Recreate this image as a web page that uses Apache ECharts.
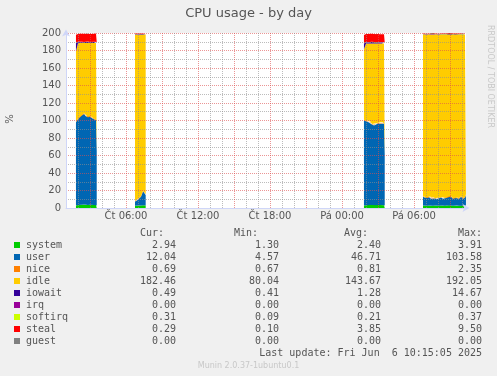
<!DOCTYPE html>
<html>
<head>
<meta charset="utf-8">
<script src="https://cdn.jsdelivr.net/npm/echarts@6.0.0/dist/echarts.min.js"></script>
<style>
  html, body { margin: 0; padding: 0; background: #f0f0f0; }
  #main { width: 497px; height: 376px; }
</style>
</head>
<body>
<div id="main"></div>
<script>
// sample times, hours since Thu 00:00 (null rows = no data between blocks)
var hours = [
  1.83, 2.00, 2.17, 2.33, 2.50, 2.67, 2.83, 3.00, 3.17, 3.33, 3.50, 3.56,
  null,
  6.75, 6.92, 7.08, 7.25, 7.42, 7.58, 7.64,
  null,
  25.83, 26.00, 26.17, 26.33, 26.50, 26.67, 26.83, 27.00, 27.17, 27.33, 27.50, 27.56,
  null,
  30.75, 30.92, 31.08, 31.25, 31.42, 31.58, 31.75, 31.92, 32.08, 32.25, 32.42, 32.58,
  32.75, 32.92, 33.08, 33.25, 33.42, 33.58, 33.75, 33.92, 34.08, 34.25, 34.33
];
var system = [
  3.0, 3.4, 3.5, 3.6, 3.9, 3.5, 3.4, 3.6, 3.5, 3.4, 3.3, 2.9,
  null,
  2.5, 2.6, 2.8, 3.0, 3.2, 3.1, 3.0,
  null,
  3.0, 3.2, 3.4, 3.5, 3.3, 3.4, 3.2, 3.5, 3.3, 3.4, 3.2, 2.8,
  null,
  2.8, 2.6, 2.7, 2.9, 2.5, 2.6, 2.8, 2.7, 2.6, 2.9, 2.7, 2.6,
  2.8, 3.1, 2.9, 2.7, 2.6, 2.8, 2.7, 2.9, 2.6, 2.8, 2.9
];
var user = [
  95, 98, 101, 102, 103.5, 101, 100, 101, 99, 98, 97, 62,
  null,
  5, 6, 8, 10, 16, 14, 12,
  null,
  97, 96, 95, 95, 92, 91, 93, 93, 93, 94, 93, 58,
  null,
  10, 9, 8.5, 9.5, 8, 9, 8, 7.5, 8.5, 9, 8, 8.5,
  9, 12, 10, 8, 9, 8.5, 8, 10, 8, 9, 12
];
var nice = [
  0.8, 0.8, 0.9, 0.8, 0.8, 0.8, 0.8, 0.9, 0.8, 0.8, 0.8, 0.7,
  null,
  0.7, 0.7, 0.7, 0.7, 0.7, 0.7, 0.7,
  null,
  0.8, 0.8, 0.8, 0.8, 0.8, 0.8, 0.8, 0.8, 0.8, 0.8, 0.8, 0.7,
  null,
  0.7, 0.7, 0.7, 0.7, 0.7, 0.7, 0.7, 0.7, 0.7, 0.7, 0.7, 0.7,
  0.7, 0.7, 0.7, 0.7, 0.7, 0.7, 0.7, 0.7, 0.7, 0.7, 0.7
];
var idle = [
  80.2, 86.3, 83.1, 82.1, 80.3, 83.2, 84.3, 83.0, 85.2, 86.3, 87.4, 122.9,
  null,
  189.9, 188.6, 186.7, 184.5, 178.3, 180.6, 182.7,
  null,
  80.5, 88.0, 88.8, 88.7, 91.9, 92.8, 91.0, 90.7, 90.9, 89.8, 91.0, 126.5,
  null,
  184.7, 185.9, 186.3, 185.1, 187.0, 185.9, 186.7, 187.3, 186.4, 185.6, 186.8, 186.4,
  185.7, 182.4, 184.6, 186.8, 185.9, 186.2, 186.8, 184.6, 186.9, 185.7, 182.6
];
var iowait = [
  9.5, 1.2, 1.0, 1.3, 0.9, 1.1, 1.4, 1.0, 1.2, 1.1, 1.3, 1.0,
  null,
  0.6, 0.7, 0.6, 0.6, 0.6, 0.5, 0.5,
  null,
  6.7, 1.5, 1.2, 1.4, 1.6, 1.3, 1.2, 1.4, 1.1, 1.3, 1.2, 1.0,
  null,
  0.5, 0.5, 0.6, 0.5, 0.4, 1.5, 0.5, 0.5, 0.6, 0.5, 0.5, 0.4,
  0.5, 1.2, 0.5, 0.5, 0.6, 0.5, 0.5, 0.5, 0.4, 0.5, 0.5
];
var irq = [
  0, 0, 0, 0, 0, 0, 0, 0, 0, 0, 0, 0,
  null,
  0, 0, 0, 0, 0, 0, 0,
  null,
  0, 0, 0, 0, 0, 0, 0, 0, 0, 0, 0, 0,
  null,
  0, 0, 0, 0, 0, 0, 0, 0, 0, 0, 0, 0,
  0, 0, 0, 0, 0, 0, 0, 0, 0, 0, 0
];
var softirq = [
  0.3, 0.3, 0.3, 0.3, 0.3, 0.3, 0.3, 0.3, 0.3, 0.3, 0.3, 0.3,
  null,
  0.2, 0.2, 0.2, 0.2, 0.2, 0.2, 0.2,
  null,
  0.3, 0.3, 0.3, 0.3, 0.3, 0.3, 0.3, 0.3, 0.3, 0.3, 0.3, 0.3,
  null,
  0.3, 0.3, 0.3, 0.3, 0.3, 0.3, 0.3, 0.3, 0.3, 0.3, 0.3, 0.3,
  0.3, 0.3, 0.3, 0.3, 0.3, 0.3, 0.3, 0.3, 0.3, 0.3, 0.3
];
var steal = [
  9.2, 8.9, 9.3, 9.0, 9.5, 9.1, 9.3, 9.2, 9.0, 9.3, 9.2, 8.8,
  null,
  0.6, 0.7, 0.5, 0.5, 0.5, 0.4, 0.4,
  null,
  9.5, 9.0, 9.3, 9.1, 9.2, 9.4, 9.0, 9.3, 9.2, 9.0, 9.1, 8.9,
  null,
  0.3, 0.3, 0.3, 0.3, 0.3, 0.3, 0.3, 0.3, 0.3, 0.3, 0.3, 0.3,
  0.3, 0.3, 0.3, 0.3, 0.3, 0.3, 0.3, 0.3, 0.3, 0.3, 0.3
];
var guest = [
  0, 0, 0, 0, 0, 0, 0, 0, 0, 0, 0, 0,
  null,
  0, 0, 0, 0, 0, 0, 0,
  null,
  0, 0, 0, 0, 0, 0, 0, 0, 0, 0, 0, 0,
  null,
  0, 0, 0, 0, 0, 0, 0, 0, 0, 0, 0, 0,
  0, 0, 0, 0, 0, 0, 0, 0, 0, 0, 0
];

var tickHours = [6, 12, 18, 24, 30];
var tickLabels = ['Čt 06:00', 'Čt 12:00', 'Čt 18:00', 'Pá 00:00', 'Pá 06:00'];

var names = ['system', 'user', 'nice', 'idle', 'iowait', 'irq', 'softirq', 'steal', 'guest'];
var colors = ['#00cc00', '#0066b3', '#ff8000', '#ffcc00', '#330099', '#990099', '#ccff00', '#ff0000', '#808080'];
var curVals = ['2.94', '12.04', '0.69', '182.46', '0.49', '0.00', '0.31', '0.29', '0.00'];
var minVals = ['1.30', '4.57', '0.67', '80.04', '0.41', '0.00', '0.09', '0.10', '0.00'];
var avgVals = ['2.40', '46.71', '0.81', '143.67', '1.28', '0.00', '0.21', '3.85', '0.00'];
var maxVals = ['3.91', '103.58', '2.35', '192.05', '14.67', '0.00', '0.37', '9.50', '0.00'];

var seriesValues = [system, user, nice, idle, iowait, irq, softirq, steal, guest];

var dom = document.getElementById('main');
var myChart = echarts.init(dom, null, { renderer: 'canvas' });

var mono = '"DejaVu Sans Mono", monospace';
var sans = '"DejaVu Sans", sans-serif';
var txtColor = '#555';

function txt(x, y, s, align, extra) {
  var o = {
    type: 'text', x: x, y: y, silent: true,
    style: {
      text: s, font: '10px ' + mono, fill: txtColor,
      textAlign: align, align: align, textVerticalAlign: 'middle', verticalAlign: 'middle'
    }
  };
  if (extra) {
    for (var k in extra) o.style[k] = extra[k];
  }
  return o;
}

var graphics = [];
graphics.push(txt(248.5, 14, 'CPU usage - by day', 'center', { font: '13px ' + sans }));
graphics.push({
  type: 'text', x: 490, y: 25, rotation: -Math.PI / 2, silent: true,
  style: { text: 'RRDTOOL / TOBI OETIKER', font: '8px ' + sans, fill: '#c8c8c8',
    textAlign: 'left', align: 'left', textVerticalAlign: 'middle', verticalAlign: 'middle' }
});
graphics.push({
  type: 'text', x: 10, y: 119, rotation: Math.PI / 2, silent: true,
  style: { text: '%', font: '10px ' + sans, fill: txtColor,
    textAlign: 'center', align: 'center', textVerticalAlign: 'middle', verticalAlign: 'middle' }
});

// legend table
graphics.push(txt(164, 233, 'Cur:', 'right'));
graphics.push(txt(258, 233, 'Min:', 'right'));
graphics.push(txt(368, 233, 'Avg:', 'right'));
graphics.push(txt(482, 233, 'Max:', 'right'));
names.forEach(function (n, i) {
  var y = 245 + i * 12;
  graphics.push({ type: 'rect', silent: true, shape: { x: 14, y: y - 3, width: 6, height: 6 }, style: { fill: colors[i] } });
  graphics.push(txt(26, y, n, 'left'));
  graphics.push(txt(176, y, curVals[i], 'right'));
  graphics.push(txt(279, y, minVals[i], 'right'));
  graphics.push(txt(381, y, avgVals[i], 'right'));
  graphics.push(txt(482, y, maxVals[i], 'right'));
});
graphics.push(txt(482, 353, 'Last update: Fri Jun  6 10:15:05 2025', 'right'));
graphics.push(txt(248.5, 366, 'Munin 2.0.37-1ubuntu0.1', 'center', { font: '8px ' + sans, fill: '#c8c8c8' }));

var gridGray = 'rgba(143,143,143,0.6)';
var gridRed = 'rgba(222,79,79,0.6)';
var axisBlue = '#cfd6f8';

// split the samples into contiguous blocks (null rows separate them)
var blocks = [];
var cur = [];
hours.forEach(function (h, i) {
  if (h === null) {
    if (cur.length) blocks.push(cur);
    cur = [];
  } else {
    cur.push(i);
  }
});
if (cur.length) blocks.push(cur);

// one stack per block; value first in each item so the stack runs along y
var series = [];
blocks.forEach(function (idxs, b) {
  names.forEach(function (name, k) {
    series.push({
      name: name,
      type: 'line',
      stack: 'cpu' + b,
      symbol: 'none',
      lineStyle: { width: 0 },
      itemStyle: { color: colors[k] },
      areaStyle: { color: colors[k], opacity: 1 },
      encode: { x: 1, y: 0 },
      data: idxs.map(function (i) {
        return [seriesValues[k][i], hours[i]];
      })
    });
  });
});

var option = {
  backgroundColor: '#f0f0f0',
  animation: false,
  grid: {
    left: 66, right: 31, top: 33, height: 175,
    show: true, backgroundColor: '#ffffff', borderWidth: 0
  },
  xAxis: {
    type: 'value',
    min: 1,
    max: 34.3333,
    interval: 1,
    z: 10,
    axisLine: {
      show: true,
      lineStyle: { color: axisBlue, width: 1 },
      symbol: ['none', 'arrow'],
      symbolSize: [6, 7],
      symbolOffset: [0, 3.5]
    },
    axisTick: { show: false },
    splitLine: {
      show: true,
      showMaxLine: false,
      lineStyle: { color: [gridGray, gridGray, gridRed], type: [1, 1], width: 1 }
    },
    axisLabel: {
      color: txtColor,
      fontFamily: sans,
      fontSize: 10,
      margin: 3,
      showMaxLabel: false,
      formatter: function (v) {
        var r = Math.round(v);
        if (Math.abs(v - r) > 1e-6) return '';
        var idx = tickHours.indexOf(r);
        return idx >= 0 ? tickLabels[idx] : '';
      }
    }
  },
  yAxis: {
    type: 'value',
    min: 0,
    max: 200,
    interval: 10,
    z: 10,
    axisLine: {
      show: true,
      lineStyle: { color: axisBlue, width: 1 },
      symbol: ['none', 'arrow'],
      symbolSize: [6, 7],
      symbolOffset: [0, 3.5]
    },
    axisTick: { show: false },
    splitLine: {
      show: true,
      lineStyle: { color: [gridRed, gridGray], type: [1, 1], width: 1 }
    },
    axisLabel: {
      color: txtColor,
      fontFamily: sans,
      fontSize: 10,
      margin: 5,
      formatter: function (v) {
        return v % 20 === 0 ? String(v) : '';
      }
    }
  },
  graphic: { elements: graphics },
  series: series
};

myChart.setOption(option);
</script>
</body>
</html>
